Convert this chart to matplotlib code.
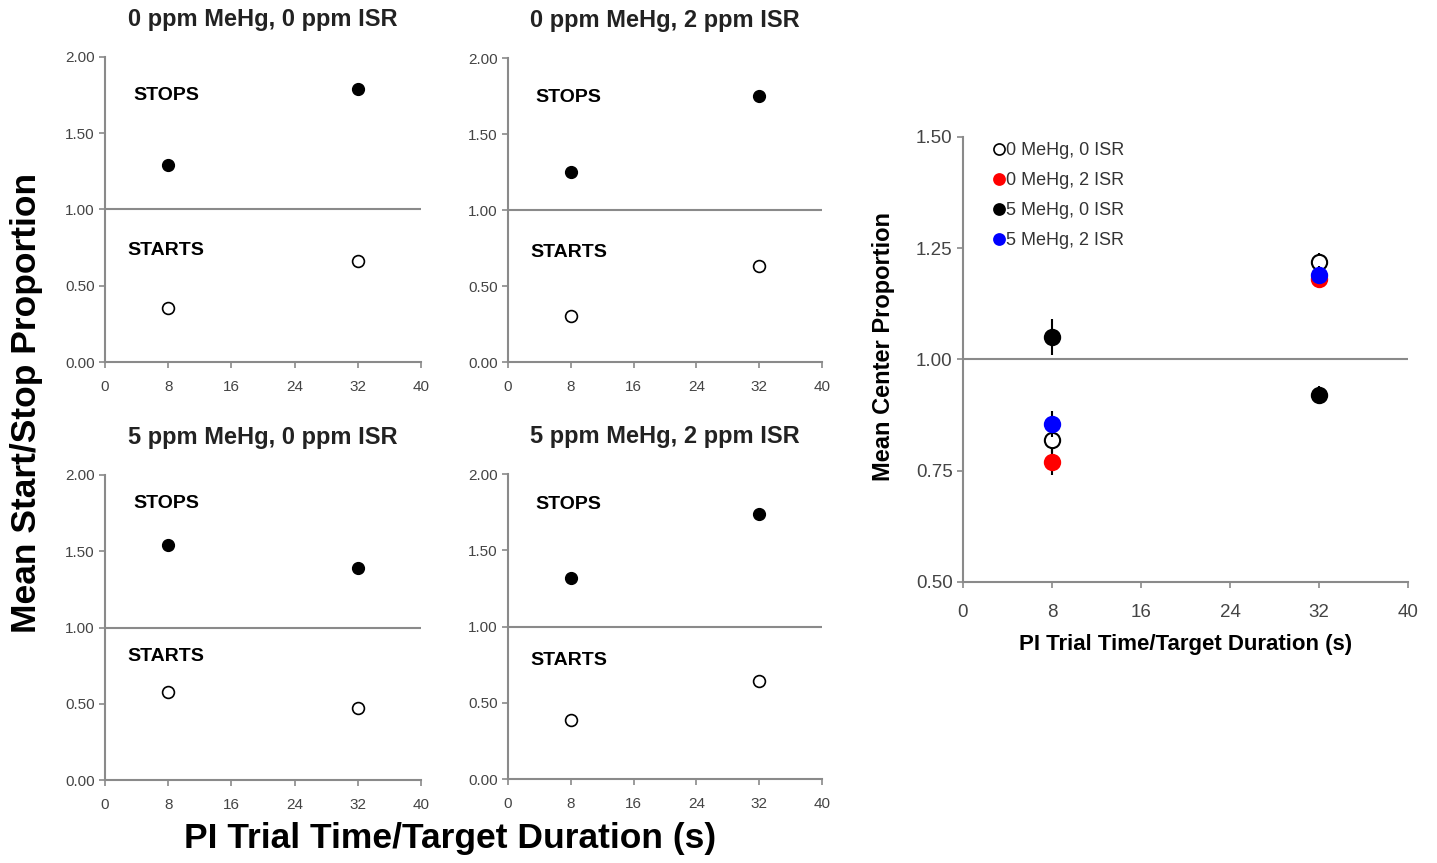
import numpy as np
import matplotlib.pyplot as plt
from matplotlib.lines import Line2D

plt.rcParams['font.family'] = ['Liberation Sans', 'DejaVu Sans']

# small panels: x positions and mean proportions
durations = [8, 32]
titles = ['0 ppm MeHg, 0 ppm ISR', '0 ppm MeHg, 2 ppm ISR',
          '5 ppm MeHg, 0 ppm ISR', '5 ppm MeHg, 2 ppm ISR']
stops = [[1.29, 1.79], [1.25, 1.75], [1.54, 1.39], [1.32, 1.74]]
starts = [[0.355, 0.66], [0.30, 0.63], [0.58, 0.47], [0.39, 0.645]]
stops_err = [[0.01, 0.01], [0.01, 0.01], [0.02, 0.01], [0.01, 0.01]]
starts_err = [[0.01, 0.01], [0.01, 0.01], [0.03, 0.01], [0.01, 0.01]]
stops_label_y = [1.75, 1.74, 1.81, 1.80]
starts_label_y = [0.73, 0.72, 0.81, 0.78]

# right panel: mean center proportion
groups = ['0 MeHg, 0 ISR', '0 MeHg, 2 ISR', '5 MeHg, 0 ISR', '5 MeHg, 2 ISR']
center = [[0.82, 1.22], [0.77, 1.18], [1.05, 0.92], [0.855, 1.19]]
center_err = [[0.03, 0.02], [0.03, 0.02], [0.04, 0.02], [0.03, 0.02]]
face = ['white', 'red', 'black', 'blue']
edge = ['black', 'red', 'black', 'blue']

W, H = 1437, 863
fig = plt.figure(figsize=(W / 100, H / 100), dpi=100)

spine_col = '#8a8a8a'
tick_col = '#444444'


def style(ax, fs, pad):
    for s in ['top', 'right']:
        ax.spines[s].set_visible(False)
    for s in ['left', 'bottom']:
        ax.spines[s].set_color(spine_col)
        ax.spines[s].set_linewidth(1.5)
    ax.tick_params(colors=spine_col, labelcolor=tick_col, labelsize=fs,
                   length=4, width=1.2)
    ax.tick_params(axis='x', pad=pad)
    ax.set_xlim(0, 40)
    ax.set_xticks([0, 8, 16, 24, 32, 40])
    ax.axhline(1.0, color=spine_col, lw=1.5, zorder=1)


boxes = [(105, 57, 421, 362), (508, 58, 822, 362),
         (105, 475, 421, 780), (508, 474, 822, 779)]
for i, (x0, y0, x1, y1) in enumerate(boxes):
    ax = fig.add_axes([x0 / W, 1 - y1 / H, (x1 - x0) / W, (y1 - y0) / H])
    style(ax, 11, 9)
    ax.set_ylim(0, 2)
    ax.set_yticks([0, 0.5, 1.0, 1.5, 2.0])
    ax.set_yticklabels(['0.00', '0.50', '1.00', '1.50', '2.00'])
    ax.errorbar(durations, stops[i], yerr=stops_err[i], fmt='o', ms=8.5,
                mfc='black', mec='black', ecolor='black', elinewidth=1.2,
                capsize=0, zorder=3, clip_on=False)
    ax.errorbar(durations, starts[i], yerr=starts_err[i], fmt='o', ms=8.5,
                mfc='white', mec='black', mew=1.2, ecolor='black',
                elinewidth=1.2, capsize=0, zorder=3, clip_on=False)
    ax.text(7.7, stops_label_y[i], 'STOPS', ha='center', va='center',
            fontsize=14, fontweight='bold')
    ax.text(7.7, starts_label_y[i], 'STARTS', ha='center', va='center',
            fontsize=14, fontweight='bold')
    ax.set_title(titles[i], fontsize=17, fontweight='bold', color='#222222',
                 pad=22)

fig.text(27 / W, 1 - 403 / H, 'Mean Start/Stop Proportion', rotation=90,
         ha='center', va='center', fontsize=25.5, fontweight='bold')
fig.text(450 / W, 1 - 838 / H, 'PI Trial Time/Target Duration (s)',
         ha='center', va='center', fontsize=25.5, fontweight='bold')

# right panel
ax = fig.add_axes([963 / W, 1 - 582 / H, 445 / W, 445 / H])
style(ax, 13.5, 12)
ax.set_ylim(0.5, 1.5)
ax.set_yticks([0.5, 0.75, 1.0, 1.25, 1.5])
ax.set_yticklabels(['0.50', '0.75', '1.00', '1.25', '1.50'])
for j in range(len(groups)):
    ax.errorbar(durations, center[j], yerr=center_err[j], fmt='o', ms=11,
                mfc=face[j], mec=edge[j], mew=1.5, ecolor='black',
                elinewidth=1.5, capsize=0, zorder=3 + j)
handles = [Line2D([], [], ls='none', marker='o', ms=8, mfc=face[j],
                  mec=edge[j], mew=1.2) for j in range(len(groups))]
leg = ax.legend(handles, groups, loc='upper left',
                bbox_to_anchor=(0.045, 1.005), frameon=False, fontsize=13,
                handletextpad=-0.1, handlelength=1.0, labelspacing=0.72,
                borderaxespad=0)
for t in leg.get_texts():
    t.set_color('#333333')
ax.set_ylabel('Mean Center Proportion', fontsize=17, fontweight='bold')
ax.yaxis.set_label_coords(-0.153, 0.53)
ax.set_xlabel('PI Trial Time/Target Duration (s)', fontsize=16,
              fontweight='bold', labelpad=9)

fig.savefig('out.png', dpi=100)
